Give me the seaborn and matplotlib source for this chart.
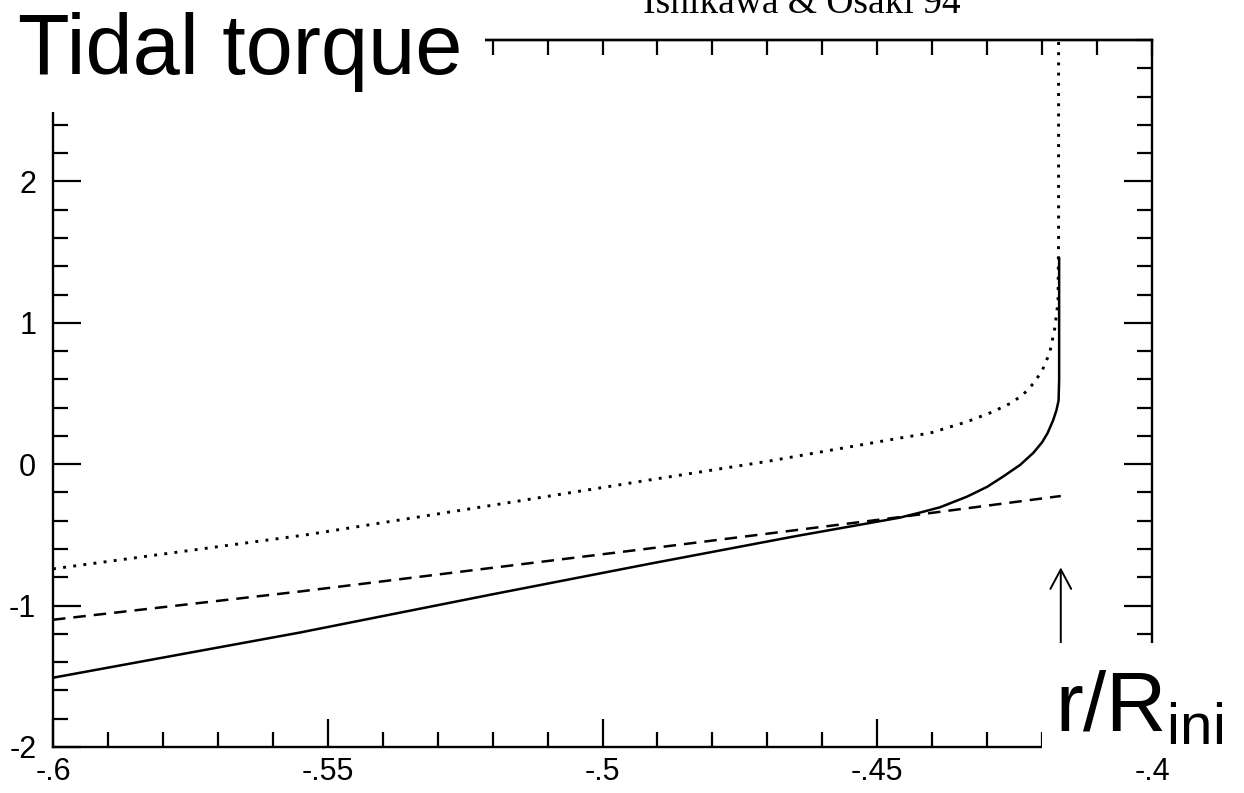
import matplotlib
matplotlib.use("Agg")
import matplotlib.pyplot as plt
import seaborn as sns
import pandas as pd
from matplotlib.ticker import MultipleLocator
from matplotlib.patches import Rectangle

# ---- data ----
solid_r = [-0.600, -0.555, -0.520, -0.4914, -0.465, -0.4459, -0.4420, -0.4386,
           -0.4337, -0.4300, -0.4270, -0.4240, -0.4216, -0.4200, -0.4190,
           -0.4180, -0.4174, -0.4170, -0.4169, -0.4169]
solid_t = [-1.51, -1.19, -0.92, -0.704, -0.51, -0.378, -0.340, -0.305,
           -0.230, -0.160, -0.085, -0.005, 0.080, 0.155, 0.220,
           0.310, 0.380, 0.450, 0.600, 1.46]

dashed_r = [-0.600, -0.555, -0.4923, -0.4471, -0.4166]
dashed_t = [-1.10, -0.90, -0.60, -0.38, -0.225]

dotted_r = [-0.600, -0.554, -0.520, -0.4917, -0.470, -0.4459, -0.4404, -0.4337,
            -0.4290, -0.4258, -0.4235, -0.4216, -0.4200, -0.4186, -0.4177,
            -0.4171, -0.4170, -0.4170]
dotted_t = [-0.74, -0.50, -0.29, -0.113, 0.02, 0.185, 0.22, 0.30,
            0.37, 0.43, 0.49, 0.57, 0.66, 0.79, 0.96,
            1.15, 1.60, 3.00]

x_ticks = [-0.6, -0.55, -0.5, -0.45, -0.4]
x_tick_labels = ["-.6", "-.55", "-.5", "-.45", "-.4"]
y_ticks = [-2, -1, 0, 1, 2]
y_tick_labels = ["-2", "-1", "0", "1", "2"]

r_ini = -0.4166          # position of the arrow marking R_ini
arrow_tip, arrow_tail = -0.73, -1.32

title_text = "Tidal torque"
xlabel_text = r"r/R$_{\mathrm{ini}}$"
credit_text = "Ishikawa & Osaki 94"

# ---- style ----
sns.set_theme(style="ticks")
plt.rcParams["font.family"] = ["Liberation Sans", "DejaVu Sans"]
plt.rcParams["mathtext.fontset"] = "custom"
plt.rcParams["mathtext.rm"] = "Liberation Sans"
plt.rcParams["mathtext.it"] = "Liberation Sans:italic"

W, H = 1244, 793
fig = plt.figure(figsize=(W / 100, H / 100), dpi=100)
ax = fig.add_axes([53 / W, 46 / H, 1099 / W, 707 / H])

solid = pd.DataFrame({"r": solid_r, "t": solid_t})
dashed = pd.DataFrame({"r": dashed_r, "t": dashed_t})
dotted = pd.DataFrame({"r": dotted_r, "t": dotted_t})

sns.lineplot(data=solid, x="r", y="t", sort=False, estimator=None, ax=ax,
             color="black", linewidth=1.8, solid_joinstyle="round")
sns.lineplot(data=dashed, x="r", y="t", sort=False, estimator=None, ax=ax,
             color="black", linewidth=1.8, linestyle=(0, (5.0, 3.2)))
sns.lineplot(data=dotted, x="r", y="t", sort=False, estimator=None, ax=ax,
             color="black", linewidth=2.1, linestyle=(0, (1.0, 2.5)))

ax.set_xlim(-0.6, -0.4)
ax.set_ylim(-2, 3)
ax.set_xlabel("")
ax.set_ylabel("")

ax.set_xticks(x_ticks)
ax.set_xticklabels(x_tick_labels)
ax.set_yticks(y_ticks)
ax.set_yticklabels(y_tick_labels)
ax.xaxis.set_minor_locator(MultipleLocator(0.01))
ax.yaxis.set_minor_locator(MultipleLocator(0.2))

ax.tick_params(which="both", direction="in", bottom=True, top=False,
               left=True, right=True, width=1.6, color="black")
ax.tick_params(which="major", length=20, labelsize=22, labelcolor="black")
ax.tick_params(axis="x", which="major", pad=7)
ax.tick_params(axis="y", which="major", pad=12)
ax.tick_params(which="minor", length=11)

for sp in ax.spines.values():
    sp.set_linewidth(1.7)
    sp.set_color("black")

# top axis: short ticks only
secax = ax.secondary_xaxis("top")
secax.xaxis.set_major_locator(MultipleLocator(0.01))
secax.tick_params(axis="x", direction="in", length=11, width=1.6,
                  labeltop=False, color="black")
secax.spines["top"].set_linewidth(1.7)
secax.spines["top"].set_color("black")

# arrow marking R_ini
ax.annotate("", xy=(r_ini, arrow_tip), xytext=(r_ini, arrow_tail),
            arrowprops=dict(arrowstyle="->,head_length=1.4,head_width=0.75",
                            lw=1.4, color="black", shrinkA=0, shrinkB=0,
                            mutation_scale=10))

# white boxes holding the big labels
fig.add_artist(Rectangle((0, 1 - 112 / H), 485 / W, 112 / H,
                         transform=fig.transFigure, facecolor="white",
                         edgecolor="none", zorder=10))
fig.add_artist(Rectangle((1042 / W, 1 - 755 / H), (W - 1042) / W, 112 / H,
                         transform=fig.transFigure, facecolor="white",
                         edgecolor="none", zorder=10))

fig.text(18 / W, 1 - 74 / H, title_text, fontsize=61, va="baseline",
         ha="left", color="black", zorder=11)
fig.text(1055 / W, 1 - 732 / H, xlabel_text, fontsize=60, va="baseline",
         ha="left", color="black", zorder=11)
fig.text(643 / W, 1 - 13 / H, credit_text, fontsize=27, va="baseline",
         ha="left", color="black", family=["Liberation Serif", "DejaVu Serif"],
         zorder=11)

fig.savefig("out.png", dpi=100, facecolor="white")
